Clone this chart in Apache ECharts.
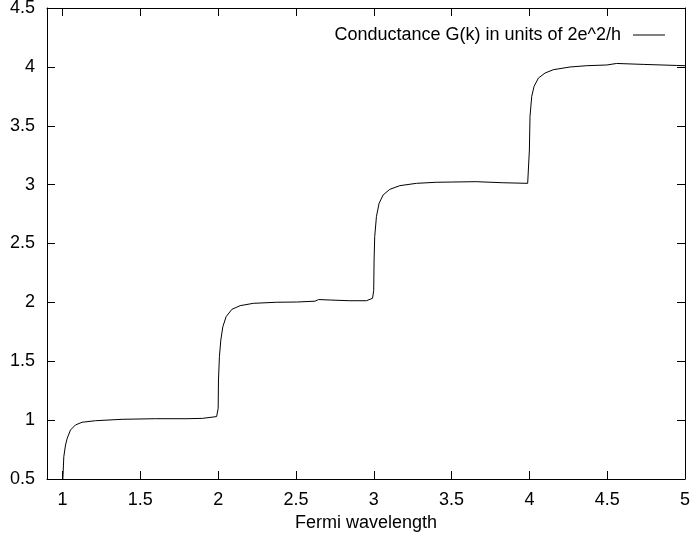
<!DOCTYPE html>
<html>
<head>
<meta charset="utf-8">
<script src="https://cdn.jsdelivr.net/npm/echarts@6/dist/echarts.min.js"></script>
<style>
html,body{margin:0;padding:0;background:#fff;}
#chart{width:691px;height:533px;}
</style>
</head>
<body>
<div id="chart"></div>
<script>
var seriesName = 'Conductance G(k) in units of 2e^2/h';
var xAxisName = 'Fermi wavelength';
var xTicks = [1, 1.5, 2, 2.5, 3, 3.5, 4, 4.5, 5];
var xValues = [
  1.000, 1.002, 1.008, 1.019, 1.030, 1.051, 1.083, 1.126, 1.212, 1.383, 1.596, 1.800, 1.900, 1.990, 1.998,
  2.000, 2.002, 2.008, 2.017, 2.030, 2.051, 2.088, 2.141, 2.226, 2.376, 2.504, 2.622, 2.628, 2.645, 2.720, 2.846, 2.953, 2.992, 2.998,
  2.9995, 3.002, 3.006, 3.017, 3.034, 3.060, 3.103, 3.167, 3.274, 3.402, 3.498, 3.508, 3.658, 3.829, 3.989, 3.997,
  4.000, 4.004, 4.015, 4.030, 4.058, 4.101, 4.154, 4.261, 4.369, 4.497, 4.507, 4.561, 4.732, 4.947, 5.000
];
var gValues = [
  0.40, 0.50, 0.689, 0.789, 0.846, 0.916, 0.959, 0.982, 0.995, 1.007, 1.012, 1.012, 1.015, 1.030, 1.043,
  1.10, 1.341, 1.539, 1.680, 1.793, 1.878, 1.941, 1.972, 1.992, 2.001, 2.003, 2.010, 2.025, 2.024, 2.020, 2.014, 2.014, 2.035, 2.050,
  2.10, 2.360, 2.558, 2.728, 2.841, 2.912, 2.960, 2.991, 3.011, 3.020, 3.022, 3.033, 3.025, 3.016, 3.011, 3.015,
  3.294, 3.579, 3.749, 3.834, 3.905, 3.948, 3.976, 3.999, 4.010, 4.016, 4.024, 4.029, 4.021, 4.012, 4.010
];

var data = xValues.map(function (x, i) { return [x, gValues[i]]; });
var font = 'Liberation Sans, Arial, sans-serif';
var fs = 18;
var tick = { show: true, inside: true, length: 8, lineStyle: { color: '#000', width: 1 } };

var chart = echarts.init(document.getElementById('chart'), null, { renderer: 'canvas' });
chart.setOption({
  animation: false,
  backgroundColor: '#fff',
  grid: { left: 47, right: 6, top: 8, bottom: 54, containLabel: false, outerBoundsMode: 'none' },
  legend: {
    show: true,
    right: 21,
    top: 21,
    align: 'right',
    icon: 'path://M0,0 L32,0 L32,1 L0,1 Z',
    itemWidth: 32,
    itemHeight: 1,
    textStyle: { fontFamily: font, fontSize: fs, color: '#000', padding: [0, 7, 0, 0] },
    data: [{ name: seriesName, itemStyle: { color: '#000' } }]
  },
  xAxis: [{
    type: 'value', position: 'bottom', min: 0.9, max: 5,
    name: xAxisName, nameLocation: 'middle', nameGap: 28,
    nameTextStyle: { fontFamily: font, fontSize: fs, color: '#000' },
    axisLine: { show: true, onZero: false, lineStyle: { color: '#000', width: 1 } },
    axisTick: Object.assign({ customValues: xTicks }, tick),
    axisLabel: { customValues: xTicks, fontFamily: font, fontSize: fs, color: '#000', margin: 12 },
    splitLine: { show: false }
  }, {
    type: 'value', position: 'top', min: 0.9, max: 5,
    axisLine: { show: true, onZero: false, lineStyle: { color: '#000', width: 1 } },
    axisTick: Object.assign({ customValues: xTicks }, tick),
    axisLabel: { show: false },
    splitLine: { show: false }
  }],
  yAxis: [{
    type: 'value', position: 'left', min: 0.5, max: 4.5, interval: 0.5,
    axisLine: { show: true, onZero: false, lineStyle: { color: '#000', width: 1 } },
    axisTick: tick,
    axisLabel: { fontFamily: font, fontSize: fs, color: '#000', margin: 12 },
    splitLine: { show: false }
  }, {
    type: 'value', position: 'right', min: 0.5, max: 4.5, interval: 0.5,
    axisLine: { show: true, onZero: false, lineStyle: { color: '#000', width: 1 } },
    axisTick: tick,
    axisLabel: { show: false },
    splitLine: { show: false }
  }],
  series: [{
    name: seriesName,
    type: 'line',
    xAxisIndex: 0, yAxisIndex: 0,
    data: data,
    showSymbol: false,
    symbol: 'none',
    smooth: false,
    clip: true,
    lineStyle: { color: '#000', width: 1 },
    itemStyle: { color: '#000' }
  }]
});
</script>
</body>
</html>
